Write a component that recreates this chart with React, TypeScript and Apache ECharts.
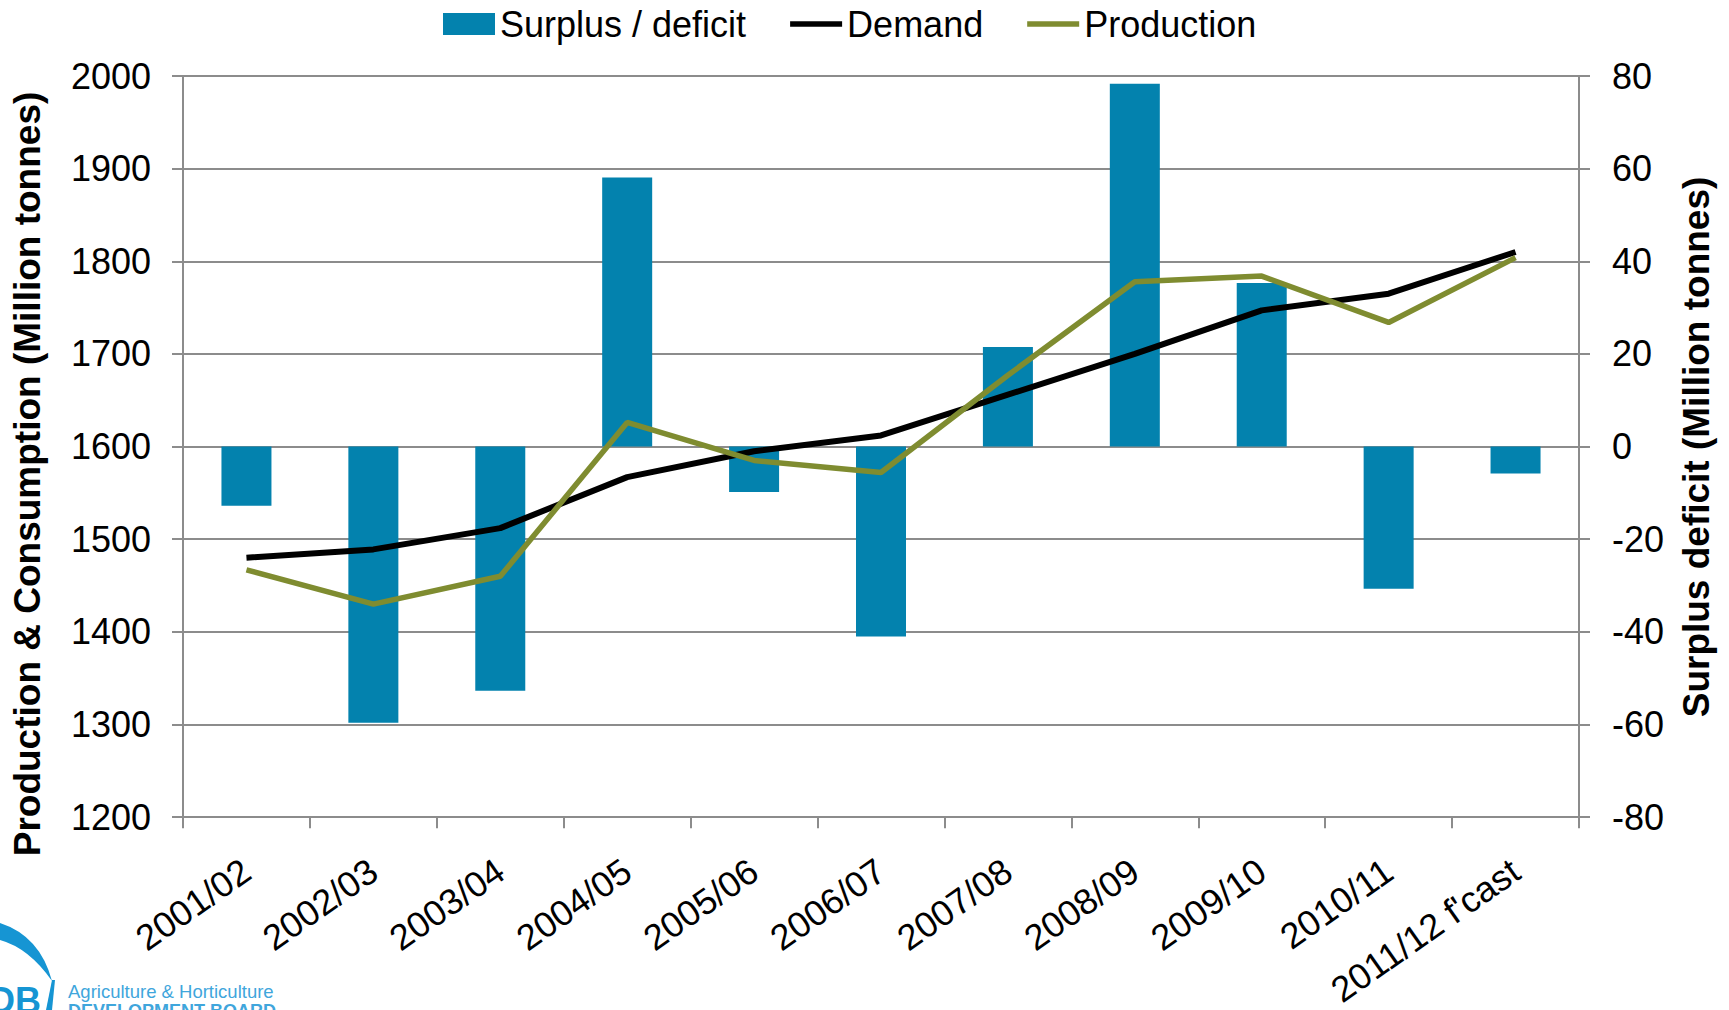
import React, { useEffect, useRef } from 'react';
import * as echarts from 'echarts';

const categories = [
  '2001/02', '2002/03', '2003/04', '2004/05', '2005/06', '2006/07',
  '2007/08', '2008/09', '2009/10', '2010/11', "2011/12 f'cast",
];
const surplusDeficit = [-12.8, -59.6, -52.7, 58.1, -9.8, -41.0, 21.5, 78.3, 35.3, -30.7, -5.8];
const demand = [1480, 1489, 1512, 1567, 1595, 1612, 1656, 1700, 1747, 1765, 1810];
const production = [1467, 1430, 1460, 1626, 1585, 1572, 1677, 1778, 1784, 1734, 1804];

const FONT = '"Liberation Sans", Arial, Helvetica, sans-serif';
const GRID_GREY = '#8c8c8c';
const BAR_BLUE = '#0382ae';
const PROD_GREEN = '#7f8c30';
const LOGO_BLUE = '#1695d3';
const LOGO_TEXT = '#3fa6dc';

export default function App() {
  const ref = useRef<HTMLDivElement>(null);

  useEffect(() => {
    const bladePath = 'M0 923 Q40 936 52 981 Q29 948 0 940 Z';
    try {
      echarts.graphic.registerShape('ahdbBlade', echarts.graphic.extendPath(bladePath, {}));
    } catch (e) {}
    const chart = echarts.init(ref.current!, null, { renderer: 'svg' });
    const lineIcon = 'path://M0 0H100V11H0Z';
    chart.setOption({
      animation: false,
      backgroundColor: '#ffffff',
      textStyle: { fontFamily: FONT },
      grid: { left: 183, right: 150, top: 76, bottom: 191, containLabel: false },
      legend: {
        left: 438,
        top: 1,
        itemWidth: 52,
        itemHeight: 22,
        itemGap: 44,
        symbolKeepAspect: true,
        textStyle: { fontSize: 36, color: '#000', fontFamily: FONT },
        data: [
          { name: 'Surplus / deficit', icon: 'rect', itemStyle: { color: BAR_BLUE, borderWidth: 0 } },
          { name: 'Demand', icon: lineIcon, itemStyle: { color: '#000', borderWidth: 0 } },
          { name: 'Production', icon: lineIcon, itemStyle: { color: PROD_GREEN, borderWidth: 0 } },
        ],
      },
      xAxis: {
        type: 'category',
        data: categories,
        boundaryGap: true,
        axisLine: { show: true, onZero: false, lineStyle: { color: GRID_GREY, width: 2 } },
        axisTick: { show: true, length: 11, lineStyle: { color: GRID_GREY, width: 2 } },
        axisLabel: {
          interval: 0,
          rotate: 35,
          margin: 50,
          fontSize: 36,
          color: '#000',
          fontFamily: FONT,
        },
        splitLine: { show: false },
      },
      yAxis: [
        {
          type: 'value',
          position: 'left',
          min: 1200,
          max: 2000,
          interval: 100,
          axisLine: { show: true, lineStyle: { color: GRID_GREY, width: 2 } },
          axisTick: { show: true, length: 11, lineStyle: { color: GRID_GREY, width: 2 } },
          axisLabel: {
            margin: 32,
            fontSize: 36,
            color: '#000',
            fontFamily: FONT,
            formatter: (v: number) => String(v),
          },
          splitLine: { show: true, lineStyle: { color: GRID_GREY, width: 2 } },
        },
        {
          type: 'value',
          position: 'right',
          min: -80,
          max: 80,
          interval: 20,
          axisLine: { show: true, lineStyle: { color: GRID_GREY, width: 2 } },
          axisTick: { show: true, length: 11, lineStyle: { color: GRID_GREY, width: 2 } },
          axisLabel: {
            margin: 33,
            fontSize: 36,
            color: '#000',
            fontFamily: FONT,
            formatter: (v: number) => String(v),
          },
          splitLine: { show: false },
        },
      ],
      series: [
        {
          name: 'Surplus / deficit',
          type: 'bar',
          yAxisIndex: 1,
          barWidth: 50,
          itemStyle: { color: BAR_BLUE },
          data: surplusDeficit,
        },
        {
          name: 'Demand',
          type: 'line',
          yAxisIndex: 0,
          symbol: 'none',
          color: '#000',
          lineStyle: { color: '#000', width: 6 },
          data: demand,
        },
        {
          name: 'Production',
          type: 'line',
          yAxisIndex: 0,
          symbol: 'none',
          color: PROD_GREEN,
          lineStyle: { color: PROD_GREEN, width: 5.5 },
          data: production,
        },
      ],
      graphic: [
        {
          type: 'text',
          x: 27,
          y: 474,
          rotation: Math.PI / 2,
          style: {
            text: 'Production & Consumption (Million tonnes)',
            fontSize: 37,
            fontWeight: 'bold',
            fontFamily: FONT,
            fill: '#000',
            align: 'center',
            verticalAlign: 'middle',
          },
        },
        {
          type: 'text',
          x: 1696,
          y: 447,
          rotation: Math.PI / 2,
          style: {
            text: 'Surplus deficit (Million tonnes)',
            fontSize: 37,
            fontWeight: 'bold',
            fontFamily: FONT,
            fill: '#000',
            align: 'center',
            verticalAlign: 'middle',
          },
        },
        {
          type: 'ahdbBlade',
          x: 0,
          y: 0,
          style: { fill: LOGO_BLUE },
        },
        {
          type: 'polygon',
          shape: { points: [[52, 980], [55, 980], [52, 1010], [46, 1010]] },
          style: { fill: LOGO_BLUE },
        },
        {
          type: 'text',
          x: 41,
          y: 1000,
          style: {
            text: 'DB',
            fontSize: 36,
            fontWeight: 'bold',
            fontFamily: FONT,
            fill: LOGO_BLUE,
            align: 'right',
            verticalAlign: 'middle',
          },
        },
        {
          type: 'text',
          x: 68,
          y: 991,
          style: {
            text: 'Agriculture & Horticulture',
            fontSize: 18.5,
            fontFamily: FONT,
            fill: LOGO_TEXT,
            align: 'left',
            verticalAlign: 'middle',
          },
        },
        {
          type: 'text',
          x: 68,
          y: 1011,
          style: {
            text: 'DEVELOPMENT BOARD',
            fontSize: 18,
            fontWeight: 'bold',
            fontFamily: FONT,
            fill: LOGO_TEXT,
            align: 'left',
            verticalAlign: 'middle',
          },
        },
      ],
    });
    return () => chart.dispose();
  }, []);

  return (
    <div
      ref={ref}
      style={{
        position: 'absolute',
        left: 0,
        top: 0,
        width: 1729,
        height: 1010,
        overflow: 'hidden',
        background: '#fff',
      }}
    />
  );
}
